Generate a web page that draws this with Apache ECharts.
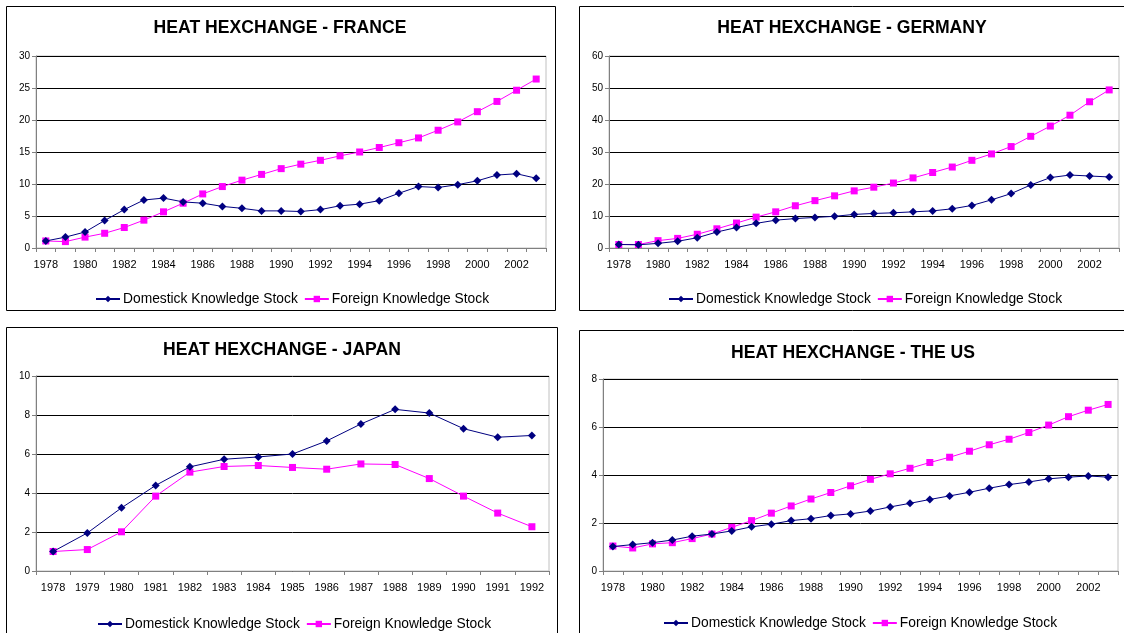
<!DOCTYPE html>
<html>
<head>
<meta charset="utf-8">
<script src="https://cdn.jsdelivr.net/npm/echarts@6/dist/echarts.min.js"></script>
<style>
html,body{margin:0;padding:0;background:#fff;}
#c{width:1124px;height:633px;}
</style>
</head>
<body>
<div id="c"></div>
<script>
const yearsLong = ['1978','1979','1980','1981','1982','1983','1984','1985','1986','1987','1988','1989','1990','1991','1992','1993','1994','1995','1996','1997','1998','1999','2000','2001','2002','2003'];
const yearsJapan = ['1978','1979','1980','1981','1982','1983','1984','1985','1986','1987','1988','1989','1990','1991','1992'];

const franceDomestic = [1.1,1.7,2.5,4.3,6.0,7.5,7.8,7.2,7.0,6.5,6.2,5.8,5.8,5.7,6.0,6.6,6.85,7.4,8.55,9.6,9.45,9.9,10.5,11.4,11.6,10.9];
const franceForeign  = [1.1,1.0,1.7,2.3,3.2,4.35,5.65,7.0,8.45,9.6,10.6,11.5,12.4,13.1,13.7,14.4,15.0,15.7,16.45,17.2,18.4,19.7,21.3,22.9,24.65,26.4];

const germanyDomestic = [1.1,1.0,1.45,2.1,3.2,5.0,6.4,7.7,8.7,9.2,9.55,9.9,10.5,10.8,11.0,11.3,11.6,12.25,13.3,15.05,17.0,19.7,22.0,22.8,22.5,22.2];
const germanyForeign  = [1.1,1.1,2.3,3.0,4.3,6.0,7.8,9.65,11.3,13.2,14.8,16.3,17.85,19.0,20.3,21.9,23.6,25.3,27.4,29.4,31.7,34.9,38.1,41.5,45.7,49.4];

const japanDomestic = [1.0,1.95,3.24,4.39,5.34,5.73,5.85,6.0,6.67,7.54,8.29,8.1,7.3,6.86,6.95];
const japanForeign  = [1.0,1.1,2.01,3.84,5.07,5.36,5.41,5.31,5.22,5.49,5.46,4.74,3.84,2.97,2.27];

const usDomestic = [1.02,1.1,1.18,1.29,1.45,1.54,1.67,1.84,1.95,2.1,2.18,2.31,2.38,2.5,2.67,2.82,2.98,3.13,3.28,3.45,3.6,3.71,3.84,3.91,3.96,3.91];
const usForeign  = [1.04,0.96,1.13,1.18,1.35,1.54,1.82,2.1,2.41,2.71,3.0,3.27,3.55,3.82,4.05,4.28,4.52,4.74,4.99,5.26,5.49,5.77,6.08,6.43,6.7,6.94];

const titles = ['HEAT HEXCHANGE - FRANCE','HEAT HEXCHANGE - GERMANY','HEAT HEXCHANGE - JAPAN','HEAT HEXCHANGE - THE US'];
const seriesNames = ['Domestick Knowledge Stock','Foreign Knowledge Stock'];

const FONT = 'Liberation Sans, Arial, sans-serif';
const panels = [
  {cats: yearsLong, dom: franceDomestic, for_: franceForeign, max: 30, step: 5, grid:{left:36, top:56, width:510, height:192}, labelInt:1, box:[6,6,549,304], title:[280,19], legend:[95,292]},
  {cats: yearsLong, dom: germanyDomestic, for_: germanyForeign, max: 60, step: 10, grid:{left:609, top:56, width:510, height:192}, labelInt:1, box:[579,6,560,304], title:[852,19], legend:[668,292]},
  {cats: yearsJapan, dom: japanDomestic, for_: japanForeign, max: 10, step: 2, grid:{left:36, top:376, width:513, height:195}, labelInt:0, box:[6,327,551,320], title:[282,341], legend:[97,617]},
  {cats: yearsLong, dom: usDomestic, for_: usForeign, max: 8, step: 2, grid:{left:603, top:379, width:515, height:192}, labelInt:1, box:[579,330,560,320], title:[853,344], legend:[663,616]}
];

const grids = [], xAxes = [], yAxes = [], series = [], titleArr = [], legends = [], graphics = [];
panels.forEach((p, i) => {
  graphics.push({type:'rect', shape:{x:p.box[0]+0.5, y:p.box[1]+0.5, width:p.box[2], height:p.box[3]}, style:{fill:'#fff', stroke:'#000', lineWidth:1}, z:-10});
  grids.push(Object.assign({show:true, borderColor:'#c0c0c0', borderWidth:1, backgroundColor:'#fff'}, p.grid));
  xAxes.push({
    type:'category', gridIndex:i, data:p.cats, boundaryGap:true,
    axisLine:{lineStyle:{color:'#808080', width:1}},
    axisTick:{show:true, interval:0, length:4, inside:false, lineStyle:{color:'#808080'}},
    axisLabel:{interval:p.labelInt, color:'#000', fontSize:11, fontFamily:FONT, margin:11},
    splitLine:{show:false}
  });
  yAxes.push({
    type:'value', gridIndex:i, min:0, max:p.max, interval:p.step,
    axisLine:{show:true, lineStyle:{color:'#808080', width:1}},
    axisTick:{show:true, length:4, lineStyle:{color:'#808080'}},
    axisLabel:{color:'#000', fontSize:10, fontFamily:FONT, margin:6},
    splitLine:{show:true, lineStyle:{color:'#000', width:1}}
  });
  series.push({
    name:seriesNames[0], type:'line', xAxisIndex:i, yAxisIndex:i, data:p.dom,
    symbol:'diamond', symbolSize:8, lineStyle:{color:'#000080', width:1}, itemStyle:{color:'#000080'}, z:3
  });
  series.push({
    name:seriesNames[1], type:'line', xAxisIndex:i, yAxisIndex:i, data:p.for_,
    symbol:'rect', symbolSize:7, lineStyle:{color:'#ff00ff', width:1}, itemStyle:{color:'#ff00ff'}, z:2
  });
  titleArr.push({text:titles[i], left:p.title[0], top:p.title[1], textAlign:'center', padding:0,
    textStyle:{fontSize:17.6, fontWeight:'bold', color:'#000', fontFamily:FONT}});
  legends.push({data:seriesNames, left:p.legend[0], top:p.legend[1], padding:0,
    itemWidth:24, itemHeight:8, itemGap:6,
    textStyle:{fontSize:13.8, color:'#000', fontFamily:FONT, padding:[0,0,0,-2]}});
});

const chart = echarts.init(document.getElementById('c'), null, {renderer:'canvas'});
chart.setOption({
  animation:false,
  backgroundColor:'#fff',
  graphic:graphics,
  title:titleArr,
  legend:legends,
  grid:grids,
  xAxis:xAxes,
  yAxis:yAxes,
  series:series
});
</script>
</body>
</html>
